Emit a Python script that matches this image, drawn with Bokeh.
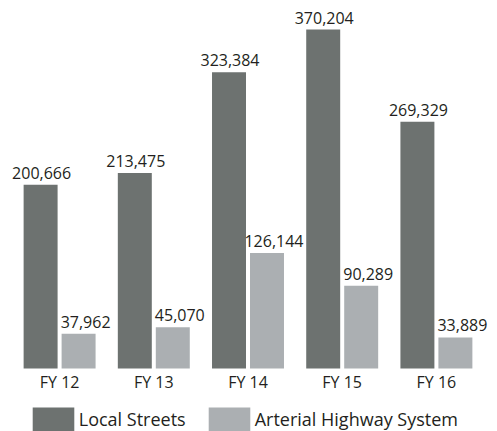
from bokeh.plotting import figure
from bokeh.models import ColumnDataSource, FactorRange, Range1d, Legend, LegendItem, LabelSet
from bokeh.transform import dodge
from bokeh.embed import file_html
from bokeh.resources import INLINE
from bokeh.core.properties import value

years = ["FY 12", "FY 13", "FY 14", "FY 15", "FY 16"]
local_streets = [200666, 213475, 323384, 370204, 269329]
arterial_highway = [37962, 45070, 126144, 90289, 33889]
series_names = ["Local Streets", "Arterial Highway System"]

DARK = "#6d7270"
LIGHT = "#abafb2"
TEXT = "#231f20"
FONT = "Open Sans"

src = ColumnDataSource(dict(
    x=years,
    zero=[0] * len(years),
    local=local_streets,
    art=arterial_highway,
    local_lbl=[f"{v:,}" for v in local_streets],
    art_lbl=[f"{v:,}" for v in arterial_highway],
))

# scale: 339 px for the tallest bar; 360 px above baseline, 63 px below
upp = max(local_streets) / 339.0
xr = FactorRange(*years, range_padding=0.04246, range_padding_units="percent")
p = figure(frame_width=491, frame_height=423,
           x_range=xr, y_range=Range1d(-63 * upp, 360 * upp),
           output_backend="svg", toolbar_location=None,
           min_border_left=2, min_border_right=0, min_border_top=8, min_border_bottom=0)

off = 0.2016
w = 0.3607
r1 = p.vbar(x=dodge("x", -off, range=p.x_range), top="local", width=w, source=src,
            fill_color=DARK, line_color=None)
r2 = p.vbar(x=dodge("x", off, range=p.x_range), top="art", width=w, source=src,
            fill_color=LIGHT, line_color=None)

for col, lbl, o, xo in (("local", "local_lbl", -off, 1), ("art", "art_lbl", off, 7)):
    ls = LabelSet(x=dodge("x", o, range=p.x_range), y=col, text=lbl, source=src,
                  text_align="center", text_baseline="alphabetic", y_offset=6, x_offset=xo,
                  text_font=value(FONT), text_font_size="16px", text_color=TEXT)
    p.add_layout(ls)

# category labels under the bars
cats = LabelSet(x="x", y="zero", text="x", source=src,
                text_align="center", text_baseline="alphabetic", y_offset=-19,
                text_font=value(FONT), text_font_size="16px", text_color=TEXT)
p.add_layout(cats)

p.xaxis.visible = False
p.yaxis.visible = False
p.xgrid.visible = False
p.ygrid.visible = False
p.outline_line_color = None

legend = Legend(items=[LegendItem(label=series_names[0], renderers=[r1]),
                       LegendItem(label=series_names[1], renderers=[r2])],
                orientation="horizontal", location=(24.75, -3),
                glyph_width=52, glyph_height=30, label_standoff=0, spacing=17,
                label_text_font=FONT, label_text_font_size="18px", label_text_color=TEXT,
                label_height=30, border_line_color=None, background_fill_alpha=0,
                margin=0, padding=0)
p.add_layout(legend)

open("out.html", "w").write(file_html(p, INLINE))
